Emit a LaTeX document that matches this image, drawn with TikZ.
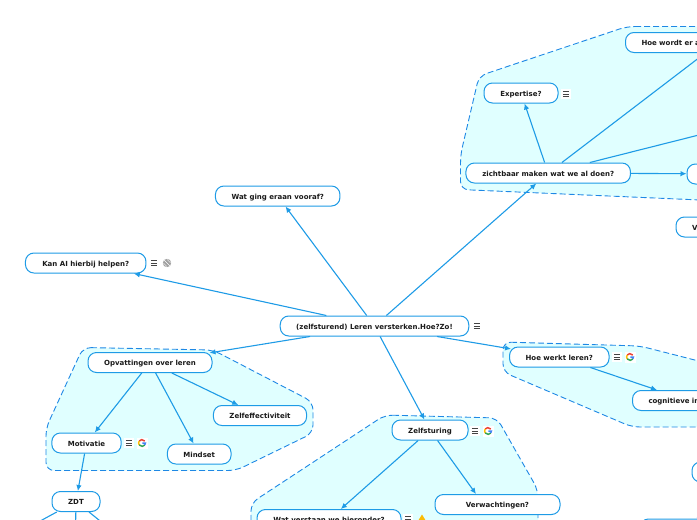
\documentclass[tikz,border=0pt]{standalone}
\usepackage{fontspec}
\setmainfont{DejaVu Sans}
\usepackage{tikz}
\usetikzlibrary{arrows.meta}

\definecolor{linkblue}{HTML}{1E9BE6}
\definecolor{cloudblue}{HTML}{1E88E5}
\definecolor{cloudfill}{HTML}{E0FFFF}
\definecolor{textblack}{HTML}{1A1A1A}
\definecolor{icongrey}{HTML}{444444}
\definecolor{gred}{HTML}{EA4335}
\definecolor{gyellow}{HTML}{FBBC05}
\definecolor{ggreen}{HTML}{34A853}
\definecolor{gblue}{HTML}{4285F4}

\begin{document}
\begin{tikzpicture}[x=1pt,y=-1pt,
  idea/.style={draw=linkblue,fill=white,line width=1pt,rounded corners=8.5pt,
    minimum height=20pt,inner xsep=16pt,inner ysep=0pt,text height=7pt,text depth=0.5pt,
    text=textblack,font=\fontsize{7}{8}\selectfont\bfseries},
  offpage/.style={idea,align=left},
  link/.style={draw=linkblue,line width=1.1pt,-{Latex[length=6pt,width=5.5pt]}},
  stub/.style={draw=linkblue,line width=1.1pt},
  cloud/.style={draw=cloudblue,fill=cloudfill,line width=0.9pt,rounded corners=8pt,
    dash pattern=on 6pt off 3pt},
  noteicon/.pic={
    \fill[white] (-5,-5) rectangle (5,5);
    \draw[icongrey,line width=0.8pt]
      (-3.2,-2.6) -- (3.2,-2.6)
      (-3.2,0) -- (3.2,0)
      (-3.2,2.6) -- (3.2,2.6);
  },
  gicon/.pic={
    \fill[white] (-5.5,-5.5) rectangle (5.5,5.5);
    \begin{scope}[y=1pt]
      \draw[gred,line width=1.5pt] (35:3.4) arc (35:145:3.4);
      \draw[gyellow,line width=1.5pt] (145:3.4) arc (145:215:3.4);
      \draw[ggreen,line width=1.5pt] (215:3.4) arc (215:325:3.4);
      \draw[gblue,line width=1.5pt] (325:3.4) arc (325:360:3.4) -- (0.3,0);
    \end{scope}
  },
  globeicon/.pic={
    \fill[gray!75] (0,0) circle (4.2);
    \draw[white,line width=0.4pt] (-3,-3) -- (3,3) (-3.6,0) -- (0,3.6) (0,-3.6) -- (3.6,0);
  }]
  \useasboundingbox (0,0) rectangle (697,520);

  % clouds
  \draw[cloud]
    (627,26.5) -- (860,26.5) -- (860,207) -- (460.5,189.5)
    -- (460.5,155) -- (479,76) -- cycle;
  \draw[cloud]
    (83,347.5) -- (213,350) -- (313,402) -- (313,433)
    -- (236,470.5) -- (46,470.5) -- (46,428) -- cycle;
  \draw[cloud]
    (385,415) -- (497,418) -- (538,490) -- (538,570)
    -- (251,570) -- (251,503) -- cycle;
  \draw[cloud]
    (503,342) -- (640,346) -- (820,392) -- (820,427)
    -- (632,427) -- (503,372) -- cycle;

  % nodes
  \node[idea,minimum width=188pt] (root) at (374.5,326) {(zelfsturend) Leren versterken.Hoe?Zo!};
  \node[idea,minimum width=124.5pt] (vooraf) at (277.7,196) {Wat ging eraan vooraf?};
  \node[idea,minimum width=120.5pt] (kanai) at (85.7,263) {Kan AI hierbij helpen?};
  \node[idea,minimum width=124pt] (opvattingen) at (150,362.5) {Opvattingen over leren};
  \node[idea,minimum width=93pt] (effectiviteit) at (260,415.5) {Zelfeffectiviteit};
  \node[idea,minimum width=69pt] (motivatie) at (86.5,443) {Motivatie};
  \node[idea,minimum width=63.5pt] (mindset) at (199.2,454) {Mindset};
  \node[idea,minimum width=48pt] (zdt) at (76,501.5) {ZDT};
  \node[idea,minimum width=76pt] (zelfsturing) at (430,430) {Zelfsturing};
  \node[idea,minimum width=125pt] (verwachtingen) at (497.5,504.5) {Verwachtingen?};
  \node[idea,minimum width=144pt] (verstaan) at (329,519.5) {Wat verstaan we hieronder?};
  \node[idea,minimum width=99.5pt] (werkt) at (559.3,357) {Hoe werkt leren?};
  \node[idea,minimum width=164.5pt] (zichtbaar) at (548.2,173) {zichtbaar maken wat we al doen?};
  \node[idea,minimum width=74pt] (expertise) at (521,93) {Expertise?};
  \node[offpage,text width=155pt] (hoewordt) at (719,42.5) {Hoe wordt er a};
  \node[offpage,text width=79pt] (cognitief) at (688,400.5) {cognitieve in};
  \node[offpage,text width=94pt] (rechts) at (750,174) {};
  \node[offpage,text width=60pt] (vraag) at (722,227) {V};
  \node[offpage,text width=44pt] (midden) at (730,472) {};
  \node[offpage,text width=66pt] (onder) at (689,529) {};

  \coordinate (rechtsboven) at (800,109.5);
  \coordinate (zdtlinks) at (20,532);
  \coordinate (zdtmidden) at (75,560);
  \coordinate (zdtrechts) at (120,537);

  % connectors
  \draw[link] (root) -- (vooraf);
  \draw[link] (root) -- (kanai);
  \draw[link,shorten >=-3pt] (root) -- (opvattingen);
  \draw[link] (root) -- (zelfsturing);
  \draw[link,shorten >=-2pt] (root) -- (werkt);
  \draw[link] (root) -- (zichtbaar);
  \draw[link] (opvattingen) -- (motivatie);
  \draw[link] (opvattingen) -- (mindset);
  \draw[link] (opvattingen) -- (effectiviteit);
  \draw[link] (motivatie) -- (zdt);
  \draw[link] (zelfsturing) -- (verstaan);
  \draw[link] (zelfsturing) -- ([xshift=-21.5pt]verwachtingen.north);
  \draw[link] (werkt) -- (cognitief);
  \draw[link] (zichtbaar) -- (expertise);
  \draw[link] (zichtbaar) -- (hoewordt);
  \draw[link] (zichtbaar) -- (rechts);
  \draw[stub] (zichtbaar) -- (rechtsboven);
  \draw[link] (midden) -- (onder);
  \draw[stub] (zdt) -- (zdtlinks);
  \draw[stub] (zdt) -- (zdtmidden);
  \draw[stub] (zdt) -- (zdtrechts);

  % icons
  \foreach \x/\y in {477/326,154/263,566/94,129/443,475/431,408/519,617/357}
    \pic at (\x,\y) {noteicon};
  \foreach \x/\y in {142/443,488/431,630/357}
    \pic at (\x,\y) {gicon};
  \pic at (167,263) {globeicon};
  \fill[gyellow] (422,514.5) -- (418,521) -- (426,521) -- cycle;
\end{tikzpicture}
\end{document}
